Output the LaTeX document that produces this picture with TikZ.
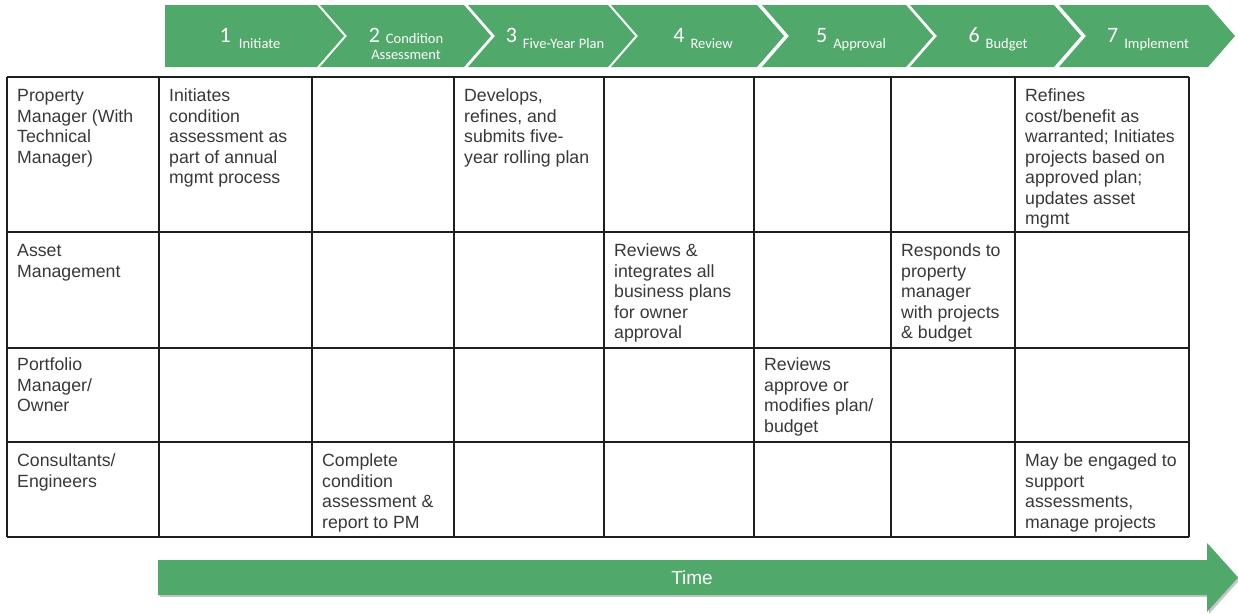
\documentclass[tikz,border=0pt]{standalone}
\usepackage{fontspec}
\setmainfont{Liberation Sans}
\newfontfamily\chevfont{Carlito}
\definecolor{chevgreen}{HTML}{50A86A}
\definecolor{txtgray}{HTML}{383838}
\definecolor{gridcol}{HTML}{1E1E1E}
\newcommand{\cellfnt}{\fontsize{17.7}{20.5}\selectfont}
\newcommand{\numfnt}{\chevfont\fontsize{22}{24}\selectfont}
\newcommand{\labfnt}{\chevfont\fontsize{14.5}{16}\selectfont}
\begin{document}
\begin{tikzpicture}[x=1pt,y=-1pt,
  chev/.style={fill=chevgreen},
  cell/.style={anchor=north west, inner sep=0pt, align=left, font=\cellfnt, text=txtgray},
  chevtext/.style={anchor=base, inner sep=0pt, text=white},
  gridline/.style={draw=gridcol, line width=1.3pt}]
\useasboundingbox (0,0) rectangle (1238,613);

% ---- chevrons ----
\fill[chev] (165,5) -- (317,5) -- (344,36) -- (317,67) -- (165,67) -- cycle;
\foreach \L/\R in {320/464, 468/608, 611/757, 762/906, 910/1054, 1059/1208}
  \fill[chev] (\L,5) -- (\R,5) -- (\R+27,36) -- (\R,67) -- (\L,67) -- (\L+27,36) -- cycle;

\node[chevtext] (s1) at (250,42) {\numfnt 1\hspace{8pt}\raisebox{-6pt}{\labfnt Initiate}};
\node[chevtext] (s2) at (406,42) {\numfnt 2\hspace{6pt}\raisebox{-1.5pt}{\labfnt Condition}};
\node[chevtext] (s2b) at (406,59) {\labfnt Assessment};
\node[chevtext] (s3) at (555,42) {\numfnt 3\hspace{6pt}\raisebox{-6pt}{\labfnt Five-Year Plan}};
\node[chevtext] (s4) at (703,42) {\numfnt 4\hspace{6pt}\raisebox{-6pt}{\labfnt Review}};
\node[chevtext] (s5) at (851,42) {\numfnt 5\hspace{6pt}\raisebox{-6pt}{\labfnt Approval}};
\node[chevtext] (s6) at (998,42) {\numfnt 6\hspace{6pt}\raisebox{-6pt}{\labfnt Budget}};
\node[chevtext] (s7) at (1148,42) {\numfnt 7\hspace{6pt}\raisebox{-6pt}{\labfnt Implement}};

% ---- table grid ----
\foreach \x in {7,159,312,454,604,754,891,1015,1189}
  \draw[gridline] (\x,77) -- (\x,537);
\foreach \y in {77,232,348,442,537}
  \draw[gridline] (7,\y) -- (1189,\y);

% ---- row labels ----
\node[cell] (r1) at (17,87) {\strut Property\\Manager (With\\Technical\\Manager)};
\node[cell] (r2) at (17,242) {\strut Asset\\Management};
\node[cell] (r3) at (17,356) {\strut Portfolio\\Manager/\\Owner};
\node[cell] (r4) at (17,452) {\strut Consultants/\\Engineers};

% ---- cells ----
\node[cell] (c11) at (169,87) {\strut Initiates\\condition\\assessment as\\part of annual\\mgmt process};
\node[cell] (c13) at (464,87) {\strut Develops,\\refines, and\\submits five-\\year rolling plan};
\node[cell] (c17) at (1025,87) {\strut Refines\\cost/benefit as\\warranted; Initiates\\projects based on\\approved plan;\\updates asset\\mgmt};
\node[cell] (c24) at (614,242) {\strut Reviews \&\\integrates all\\business plans\\for owner\\approval};
\node[cell] (c26) at (901,242) {\strut Responds to\\property\\manager\\with projects\\\& budget};
\node[cell] (c35) at (764,356) {\strut Reviews\\approve or\\modifies plan/\\budget};
\node[cell] (c42) at (322,452) {\strut Complete\\condition\\assessment \&\\report to PM};
\node[cell] (c47) at (1025,452) {\strut May be engaged to\\support\\assessments,\\manage projects};

% ---- time arrow ----
\fill[gray!45] (160,562) -- (1209,562) -- (1209,545) -- (1240,579.5) -- (1209,614) -- (1209,597) -- (160,597) -- cycle;
\fill[chevgreen] (158,560) -- (1207,560) -- (1207,543) -- (1238,577.5) -- (1207,612) -- (1207,595) -- (158,595) -- cycle;
\node[text=white, font=\fontsize{19}{22}\selectfont, inner sep=0pt] (time) at (692,578) {Time};
\end{tikzpicture}
\end{document}
